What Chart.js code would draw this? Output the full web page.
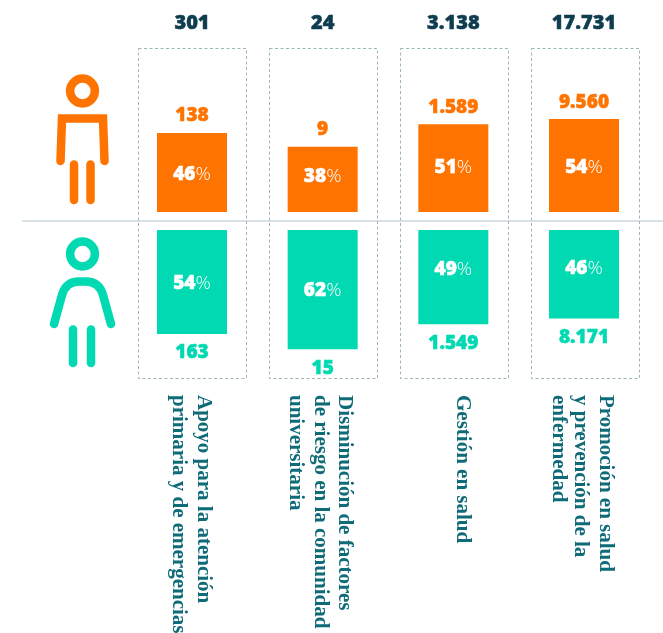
<!DOCTYPE html>
<html lang="es">
<head>
<meta charset="utf-8">
<title>Participación por sexo</title>
<script src="https://cdn.jsdelivr.net/npm/chart.js@4"></script>
<style>
  html, body { margin: 0; padding: 0; background: #fff; }
  canvas { display: block; }
</style>
</head>
<body>
<canvas id="chart" width="663" height="633"></canvas>
<script>
// Datos
const categorias = ['Apoyo para la atención primaria y de emergencias', 'Disminución de factores de riesgo en la comunidad universitaria', 'Gestión en salud', 'Promoción en salud y prevención de la enfermedad'];
const etiquetasLineas = [
  ['Apoyo para la atención', 'primaria y de emergencias'],
  ['Disminución de factores', 'de riesgo en la comunidad', 'universitaria'],
  ['Gestión en salud'],
  ['Promoción en salud', 'y prevención de la', 'enfermedad']
];
const totales = [301, 24, 3138, 17731];
const hombres = [138, 9, 1589, 9560];
const mujeres = [163, 15, 1549, 8171];
const pctHombres = [46, 38, 51, 54];
const pctMujeres = [54, 62, 49, 46];

const NARANJA = '#ff7300';
const VERDE = '#00d9b1';
const OSCURO = '#0e3d4f';
const TEAL = '#0f6b78';
const FUENTE = '"Open Sans"';

// separador de miles con punto
const miles = n => String(n).replace(/\B(?=(\d{3})+$)/g, '.');

// desplazamientos respecto al centro de la barra
const offsetsLineas = [[11, -14], [22, -2, -27], [9], [21, -4, -26]];
const offsetsCaja = [0, 0.5, 0.5, 1];
const offsetsPctH = [2.5, -2.5, -1, 2.5];
const offsetsPctM = [1.5, 0.5, -8, -6];

function figura(ctx, color, draw) {
  ctx.save();
  ctx.strokeStyle = color;
  ctx.lineWidth = 8.5;
  ctx.lineCap = 'round';
  ctx.lineJoin = 'miter';
  draw(ctx);
  ctx.restore();
}

function linea(ctx, x1, y1, x2, y2) {
  ctx.beginPath();
  ctx.moveTo(x1, y1);
  ctx.lineTo(x2, y2);
  ctx.stroke();
}

// texto con un trazo fino para que quede más grueso
function textoGrueso(ctx, txt, x, y, color) {
  ctx.fillStyle = color;
  ctx.strokeStyle = color;
  ctx.lineWidth = 0.5;
  ctx.fillText(txt, x, y);
  ctx.strokeText(txt, x, y);
}

function dibujarHombre(ctx) {
  figura(ctx, NARANJA, c => {
    c.beginPath();
    c.arc(82.5, 91, 12.4, 0, Math.PI * 2);
    c.stroke();
    c.beginPath();
    c.moveTo(60.5, 161);
    c.lineTo(62, 118.5);
    c.lineTo(103, 118.5);
    c.lineTo(104.5, 161);
    c.stroke();
    linea(c, 74, 164.5, 74, 200);
    linea(c, 90.5, 164.5, 90.5, 200);
  });
}

function dibujarMujer(ctx) {
  figura(ctx, VERDE, c => {
    c.beginPath();
    c.arc(82.5, 254, 12.4, 0, Math.PI * 2);
    c.stroke();
    c.beginPath();
    c.moveTo(54, 324);
    c.lineTo(62, 295);
    c.quadraticCurveTo(66, 281.5, 79, 281.5);
    c.lineTo(86, 281.5);
    c.quadraticCurveTo(99, 281.5, 103, 295);
    c.lineTo(111, 324);
    c.stroke();
    linea(c, 73, 329.5, 73, 363);
    linea(c, 91, 329.5, 91, 363);
  });
}

function textoPct(ctx, valor, x, y) {
  const num = String(valor);
  ctx.font = `800 19px ${FUENTE}`;
  const w1 = ctx.measureText(num).width;
  ctx.font = `300 19px ${FUENTE}`;
  const w2 = ctx.measureText('%').width;
  const inicio = x - (w1 + w2) / 2;
  ctx.textAlign = 'left';
  ctx.font = `800 19px ${FUENTE}`;
  textoGrueso(ctx, num, inicio, y, '#fff');
  ctx.font = `300 19px ${FUENTE}`;
  ctx.fillText('%', inicio + w1, y);
}

const fondo = {
  id: 'fondo',
  beforeDatasetsDraw(chart) {
    const { ctx, scales: { x } } = chart;
    ctx.save();
    // línea divisoria
    ctx.strokeStyle = '#d9e2e6';
    ctx.lineWidth = 2;
    linea(ctx, 22, 221, 663, 221);
    // cajas punteadas
    ctx.strokeStyle = '#9db6ba';
    ctx.lineWidth = 1;
    ctx.setLineDash([3, 2.5]);
    categorias.forEach((_, i) => {
      const cx = x.getPixelForValue(i) + offsetsCaja[i];
      ctx.strokeRect(Math.round(cx - 54) + 0.5, 48.5, 108, 330);
    });
    ctx.restore();
    dibujarHombre(ctx);
    dibujarMujer(ctx);
  }
};

const etiquetas = {
  id: 'etiquetas',
  afterDatasetsDraw(chart) {
    const { ctx, scales: { x, yH, yM } } = chart;
    ctx.save();
    ctx.textBaseline = 'middle';
    categorias.forEach((_, i) => {
      const cx = x.getPixelForValue(i);
      const topH = yH.getPixelForValue(pctHombres[i]);
      const baseH = yH.getPixelForValue(0);
      const finM = yM.getPixelForValue(pctMujeres[i]);
      const baseM = yM.getPixelForValue(0);

      ctx.textAlign = 'center';
      ctx.font = `800 20px ${FUENTE}`;
      textoGrueso(ctx, miles(totales[i]), cx, 23, OSCURO);

      ctx.font = `800 19px ${FUENTE}`;
      textoGrueso(ctx, miles(hombres[i]), cx, topH - 17, NARANJA);
      textoGrueso(ctx, miles(mujeres[i]), cx, finM + 19, VERDE);

      textoPct(ctx, pctHombres[i], cx, (topH + baseH) / 2 + offsetsPctH[i]);
      textoPct(ctx, pctMujeres[i], cx, (finM + baseM) / 2 + offsetsPctM[i]);

      // textos rotados
      etiquetasLineas[i].forEach((txt, j) => {
        ctx.save();
        ctx.translate(cx + offsetsLineas[i][j], 395);
        ctx.rotate(Math.PI / 2);
        ctx.textAlign = 'left';
        ctx.fillStyle = TEAL;
        ctx.font = 'bold 21px "Liberation Serif"';
        ctx.fillText(txt, 0, 0);
        ctx.restore();
      });
    });
    ctx.restore();
  }
};

new Chart(document.getElementById('chart'), {
  type: 'bar',
  data: {
    labels: categorias,
    datasets: [
      { label: 'Hombres', data: pctHombres, backgroundColor: NARANJA, yAxisID: 'yH' },
      { label: 'Mujeres', data: pctMujeres, backgroundColor: VERDE, yAxisID: 'yM' }
    ]
  },
  options: {
    responsive: false,
    animation: false,
    grouped: false,
    barPercentage: 1,
    categoryPercentage: 70 / 130.67,
    layout: { padding: { left: 126.67, right: 13.67, top: 0, bottom: 0 } },
    scales: {
      x: { display: false },
      // base en y=212 a 1.72 px por punto
      yH: { display: false, min: -421 / 1.72, max: 212 / 1.72 },
      // base en y=230 a 1.925 px por punto, hacia abajo
      yM: { display: false, reverse: true, min: -230 / 1.925, max: 403 / 1.925 }
    },
    plugins: {
      legend: { display: false },
      tooltip: { enabled: false }
    }
  },
  plugins: [fondo, etiquetas]
});
</script>
</body>
</html>
